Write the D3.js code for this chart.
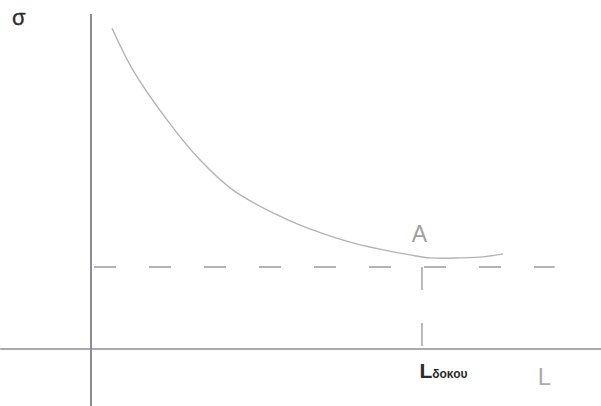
<!DOCTYPE html>
<html>
<head>
<meta charset="utf-8">
<script src="https://cdn.jsdelivr.net/npm/d3@7"></script>
<style>
  html, body { margin: 0; padding: 0; background: #fff; }
  svg { display: block; }
  text { font-family: "Liberation Sans", Arial, sans-serif; }
</style>
</head>
<body>
<svg id="chart" width="601" height="406"></svg>
<script>
// Stress σ against span length L (arbitrary units)
const spanL  = [0.41, 0.82, 1.49, 2.14, 2.78, 3.57, 4.10, 5.08, 5.73, 6.25, 6.65, 7.24, 7.69, 8.08];
const sigma  = [9.58, 8.33, 6.84, 5.64, 4.75, 4.06, 3.70, 3.19, 2.96, 2.81, 2.72, 2.72, 2.75, 2.84];

// Reference level and the corresponding beam length
const sigmaLevel = [2.45];
const beamLength = [6.49];

// Axis extents
const xAxisExtent = [-1.78, 10];
const yAxisExtent = [-1.7, 10];

const labels = { y: "σ", x: "L", point: "A", beamMain: "L", beamSub: "δοκου" };

const svg = d3.select("#chart");
const x = d3.scaleLinear().domain([0, 10]).range([91, 601]);
const y = d3.scaleLinear().domain([0, 10]).range([349, 14]);

const axisColor = "#8b8e96";
const lightGrey = "#b3b3b3";

// Axes
svg.append("line")
  .attr("x1", x(0)).attr("x2", x(0))
  .attr("y1", y(yAxisExtent[1])).attr("y2", y(yAxisExtent[0]))
  .attr("stroke", axisColor).attr("stroke-width", 2);
svg.append("line")
  .attr("x1", x(xAxisExtent[0])).attr("x2", x(xAxisExtent[1]))
  .attr("y1", y(0)).attr("y2", y(0))
  .attr("stroke", axisColor).attr("stroke-width", 1.6);

// Dashed reference level
svg.append("line")
  .attr("x1", x(0)).attr("x2", x(9.09))
  .attr("y1", y(sigmaLevel[0])).attr("y2", y(sigmaLevel[0]))
  .attr("stroke", "#9a9a9a").attr("stroke-width", 1.4)
  .attr("stroke-dasharray", "22,33").attr("stroke-dashoffset", -3);

// Dashed drop line at the beam length
svg.append("line")
  .attr("x1", x(beamLength[0])).attr("x2", x(beamLength[0]))
  .attr("y1", y(sigmaLevel[0])).attr("y2", y(0))
  .attr("stroke", "#9a9a9a").attr("stroke-width", 1.4)
  .attr("stroke-dasharray", "23,33");

// Stress curve
const pts = spanL.map((d, i) => [d, sigma[i]]);
svg.append("path")
  .datum(pts)
  .attr("fill", "none")
  .attr("stroke", lightGrey)
  .attr("stroke-width", 1.4)
  .attr("d", d3.line().x(d => x(d[0])).y(d => y(d[1])).curve(d3.curveCatmullRom.alpha(0.5)));

// Labels
svg.append("text")
  .attr("x", 12).attr("y", 25)
  .attr("font-size", 22).attr("fill", "#2e2e2e")
  .attr("stroke", "#2e2e2e").attr("stroke-width", 0.3)
  .text(labels.y);

svg.append("text")
  .attr("x", x(6.29)).attr("y", y(3.18))
  .attr("font-size", 23).attr("fill", "#a0a0a0")
  .text(labels.point);

const lb = svg.append("text")
  .attr("x", x(6.44)).attr("y", 378)
  .attr("fill", "#2a2a2a").attr("font-weight", "bold");
lb.append("tspan").attr("font-size", 21).text(labels.beamMain);
lb.append("tspan").attr("font-size", 12).attr("dx", 0).text(labels.beamSub);

svg.append("text")
  .attr("x", x(8.76)).attr("y", 385)
  .attr("font-size", 24).attr("fill", "#ababab")
  .text(labels.x);
</script>
</body>
</html>
